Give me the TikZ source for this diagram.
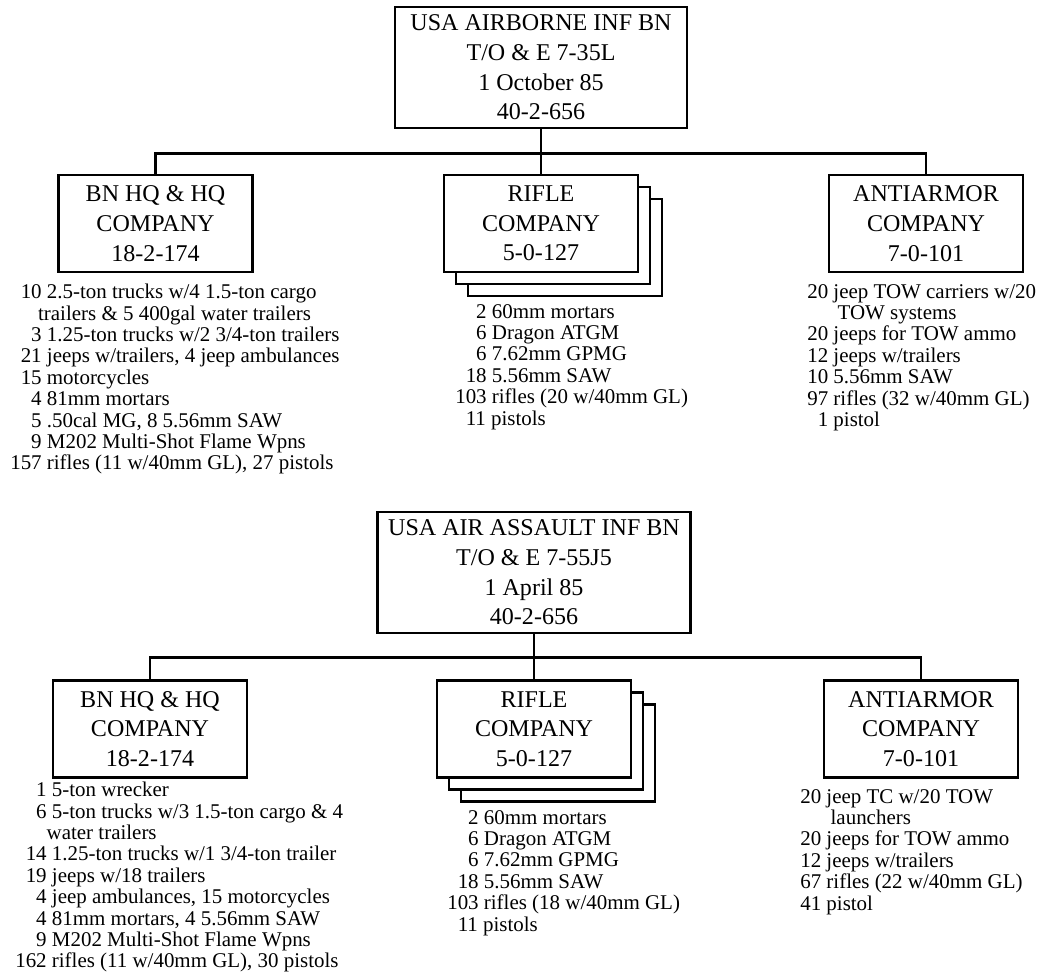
\documentclass[tikz,border=0pt]{standalone}
\usepackage{fontspec}
\setmainfont{Liberation Serif}
\usetikzlibrary{shadows}
\newcommand{\dg}{\hphantom{0}}
\newcommand{\boxfont}{\fontsize{17.1pt}{21.1pt}\selectfont}
\newcommand{\listfont}{\fontsize{14.9pt}{15.2pt}\selectfont}

\begin{document}
\begin{tikzpicture}[
  unit/.style={draw, line width=1.7pt, fill=white, align=center, inner sep=2pt, font=\boxfont, minimum width=4.85cm, minimum height=2.425cm},
  head/.style={unit, minimum width=7.3cm, minimum height=3.025cm},
  stack/.style={unit, double copy shadow={shadow xshift=0.3cm, shadow yshift=-0.3cm}},
  gear/.style={anchor=north west, align=left, inner sep=0pt, font=\listfont},
  wire/.style={line width=2pt}]
\useasboundingbox (0,0) rectangle (26.05,-24.35);
% airborne battalion
\node[head] (ab) at (13.525,-1.6875) {USA AIRBORNE INF BN\\ T/O \& E 7-35L\\ 1 October 85\\ 40-2-656};
\node[unit]  (abhq)  at (3.8875,-5.5875) {BN HQ \& HQ\\ COMPANY\\ 18-2-174};
\node[stack] (abrif) at (13.525,-5.5875) {RIFLE\\ COMPANY\\ 5-0-127};
\node[unit]  (abat)  at (23.15,-5.5875)  {ANTIARMOR\\ COMPANY\\ 7-0-101};
\draw[wire] (ab.south) -- (abrif.north);
\draw[wire] (ab.south) -- ++(0,-0.6) -| (abhq.north);
\draw[wire] (ab.south) -- ++(0,-0.6) -| (abat.north);
\node[gear] (abhqeq) at (0.25,-7.1) {\dg10 2.5-ton trucks w/4 1.5-ton cargo\\
  \hspace*{1.33em}trailers \& 5 400gal water trailers\\
  \dg\dg3 1.25-ton trucks w/2 3/4-ton trailers\\
  \dg21 jeeps w/trailers, 4 jeep ambulances\\
  \dg15 motorcycles\\
  \dg\dg4 81mm mortars\\
  \dg\dg5 .50cal MG, 8 5.56mm SAW\\
  \dg\dg9 M202 Multi-Shot Flame Wpns\\
  157 rifles (11 w/40mm GL), 27 pistols};
\node[gear] (abrifeq) at (11.375,-7.6) {\dg\dg2 60mm mortars\\
  \dg\dg6 Dragon ATGM\\
  \dg\dg6 7.62mm GPMG\\
  \dg18 5.56mm SAW\\
  103 rifles (20 w/40mm GL)\\
  \dg11 pistols};
\node[gear] (abateq) at (20.175,-7.1) {20 jeep TOW carriers w/20\\
  \hspace*{1.45em}TOW systems\\
  20 jeeps for TOW ammo\\
  12 jeeps w/trailers\\
  10 5.56mm SAW\\
  97 rifles (32 w/40mm GL)\\
  \dg1 pistol};
% air assault battalion
\node[head, minimum width=7.825cm] (aa) at (13.35,-14.3125) {USA AIR ASSAULT INF BN\\ T/O \& E 7-55J5\\ 1 April 85\\ 40-2-656};
\node[unit]  (aahq)  at (3.75,-18.225)  {BN HQ \& HQ\\ COMPANY\\ 18-2-174};
\node[stack] (aarif) at (13.35,-18.225) {RIFLE\\ COMPANY\\ 5-0-127};
\node[unit]  (aaat)  at (23.025,-18.225) {ANTIARMOR\\ COMPANY\\ 7-0-101};
\draw[wire] (aa.south) -- (aarif.north);
\draw[wire] (aa.south) -- ++(0,-0.575) -| (aahq.north);
\draw[wire] (aa.south) -- ++(0,-0.575) -| (aaat.north);
\node[gear] (aahqeq) at (0.375,-19.55) {\dg\dg1 5-ton wrecker\\
  \dg\dg6 5-ton trucks w/3 1.5-ton cargo \& 4\\
  \hspace*{1.5em}water trailers\\
  \dg14 1.25-ton trucks w/1 3/4-ton trailer\\
  \dg19 jeeps w/18 trailers\\
  \dg\dg4 jeep ambulances, 15 motorcycles\\
  \dg\dg4 81mm mortars, 4 5.56mm SAW\\
  \dg\dg9 M202 Multi-Shot Flame Wpns\\
  162 rifles (11 w/40mm GL), 30 pistols};
\node[gear] (aarifeq) at (11.175,-20.25) {\dg\dg2 60mm mortars\\
  \dg\dg6 Dragon ATGM\\
  \dg\dg6 7.62mm GPMG\\
  \dg18 5.56mm SAW\\
  103 rifles (18 w/40mm GL)\\
  \dg11 pistols};
\node[gear] (aaateq) at (20.0,-19.725) {20 jeep TC w/20 TOW\\
  \hspace*{1.45em}launchers\\
  20 jeeps for TOW ammo\\
  12 jeeps w/trailers\\
  67 rifles (22 w/40mm GL)\\
  41 pistol};
\end{tikzpicture}
\end{document}
